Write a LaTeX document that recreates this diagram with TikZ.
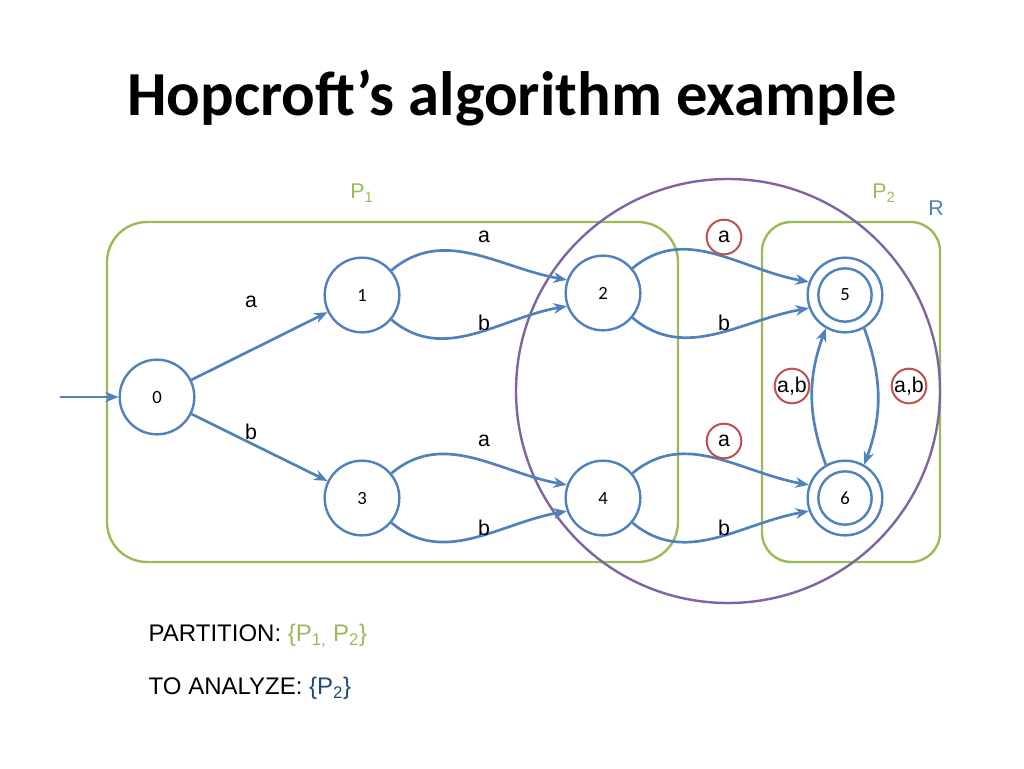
\documentclass[tikz,border=0pt]{standalone}
\usepackage{fontspec}
\setmainfont{Liberation Sans}
\newfontfamily\carl{Carlito}
\usetikzlibrary{arrows.meta}
\definecolor{eb}{RGB}{79,129,189}
\definecolor{gr}{RGB}{155,187,89}
\definecolor{pu}{RGB}{128,100,162}
\definecolor{rd}{RGB}{192,80,77}
\definecolor{db}{RGB}{31,73,125}
\begin{document}
\begin{tikzpicture}[x=0.75pt,y=-0.75pt,
  st/.style={circle,draw=eb,line width=1.8pt,fill=white,minimum size=56pt,inner sep=0pt,font=\carl\fontsize{14}{16}\selectfont},
  acc/.style={st,path picture={\draw[eb,line width=1.8pt] (path picture bounding box.center) circle (20pt);}},
  ed/.style={draw=eb,line width=2pt,-{Stealth[length=10pt,width=8pt]}},
  lb/.style={font=\fontsize{16}{18}\selectfont},
  bt/.style={font=\fontsize{18}{21}\selectfont},
  rc/.style={draw=rd,line width=1.5pt,circle,inner sep=1pt,minimum size=26pt}]
\useasboundingbox (0,0) rectangle (1024,768);
\node[font=\carl\bfseries\fontsize{47}{56}\selectfont] (t) at (512,98) {Hopcroft’s algorithm example};
\draw[gr,line width=1.8pt,rounded corners=30pt] (107,222) rectangle (678,562);
\draw[gr,line width=1.8pt,rounded corners=22pt] (762,222) rectangle (940,562);
\draw[pu,line width=1.8pt] (728,391) circle (212);
\node[gr,lb] (p1) at (362,193) {P\textsubscript{1}};
\node[gr,lb] (p2) at (884,193) {P\textsubscript{2}};
\node[eb,lb] (r) at (936,208) {R};
\node[st] (0) at (157,397) {0};
\node[st] (1) at (362,295) {1};
\node[st] (2) at (603,293) {2};
\node[st] (3) at (362,498) {3};
\node[st] (4) at (603,498) {4};
\node[acc] (5) at (845,295) {5};
\node[acc] (6) at (845,498) {6};
\coordinate (in) at (60,397);
\draw[ed] (in) -- (0);
\draw[ed] (0) -- (1);
\draw[ed] (0) -- (3);
\foreach \a/\b in {1/2,2/5,3/4,4/6}{
  \draw[ed] (\a.40) to[out=40,in=170] (\b.160);
  \draw[ed] (\a.-40) to[out=-40,in=-170] (\b.-160);
}
\draw[ed] (5.-60) to[out=-70,in=70] (6.60);
\draw[ed] (6.120) to[out=110,in=-110] (5.-120);
\node[lb] (la) at (251,302) {a};
\node[lb] (lb0) at (251,432) {b};
\node[lb] (l1) at (484,237) {a};
\node[lb] (l2) at (484,323) {b};
\node[lb] (l3) at (484,441) {a};
\node[lb] (l4) at (484,528) {b};
\node[lb,rc] (l5) at (724,237) {a};
\node[lb] (l6) at (724,323) {b};
\node[lb,rc] (l7) at (724,441) {a};
\node[lb] (l8) at (724,528) {b};
\node[lb,rc,inner sep=0pt] (l9) at (792,386) {a,b};
\node[lb,rc,inner sep=0pt] (l10) at (909,386) {a,b};
\node[bt,anchor=west] (part) at (144,636) {PARTITION: \textcolor{gr}{\{P\textsubscript{1,} P\textsubscript{2}\}}};
\node[bt,anchor=west] (ana) at (144,688) {TO ANALYZE: \textcolor{db}{\{P\textsubscript{2}\}}};
\end{tikzpicture}
\end{document}
